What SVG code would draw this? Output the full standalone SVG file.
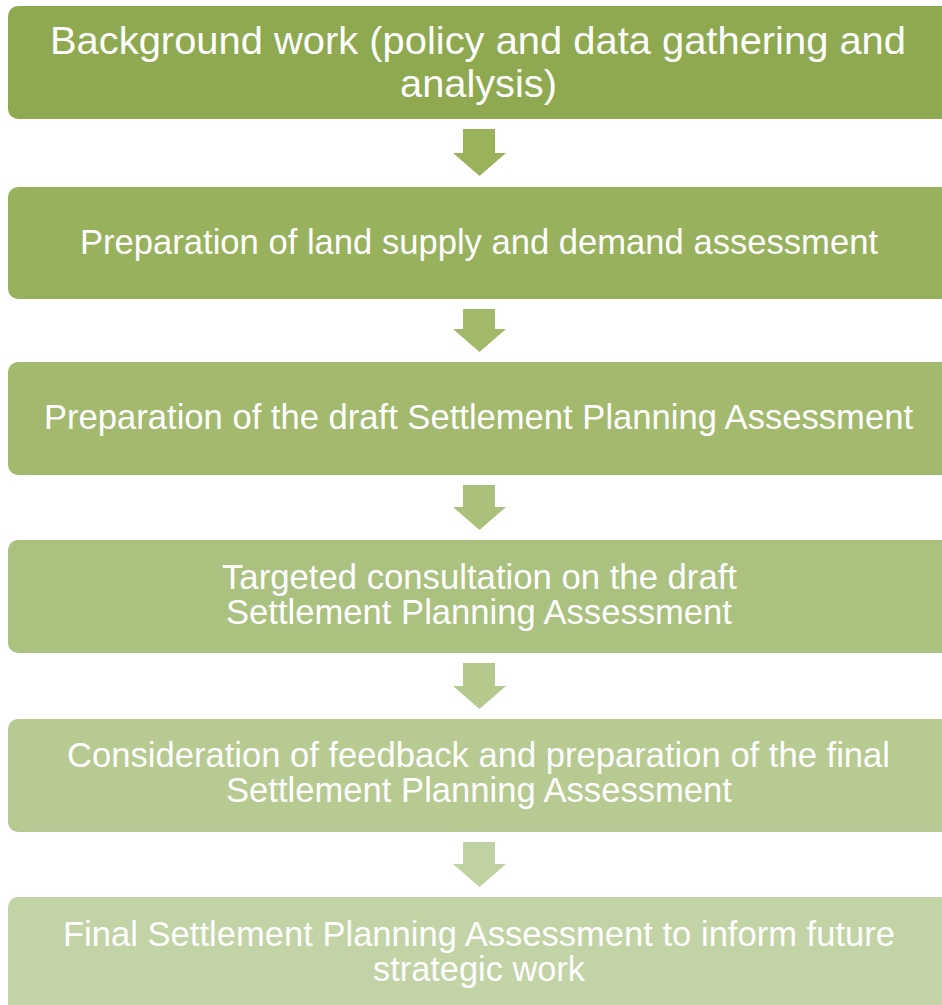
<svg xmlns="http://www.w3.org/2000/svg" width="942" height="1005" viewBox="0 0 942 1005">
<style>
.box{stroke:none}
.t{font-family:"Liberation Sans",Arial,sans-serif;fill:#ffffff;text-anchor:middle;font-size:34.5px}
.t1{font-size:39px}
</style>
<rect width="942" height="1005" fill="#ffffff"/>
<g id="connectors">
<path d="M463,129 H495 V153 H506 L479.5,176 L453,153 H463 Z" fill="#9AB35B"/>
<path d="M463,309 H495 V329 H506 L479.5,352 L453,329 H463 Z" fill="#A2B96A"/>
<path d="M463,485 H495 V507 H506 L479.5,530 L453,507 H463 Z" fill="#ABC17B"/>
<path d="M463,663 H495 V686 H506 L479.5,709 L453,686 H463 Z" fill="#B5C98D"/>
<path d="M463,842 H495 V864 H506 L479.5,887 L453,864 H463 Z" fill="#C0D1A2"/>
</g>
<g id="node1">
<rect class="box" x="8" y="6" width="950" height="113" rx="10" fill="#8EA94F"/>
<text class="t t1" x="478" y="54" textLength="856" lengthAdjust="spacingAndGlyphs">Background work (policy and data gathering and</text>
<text class="t t1" x="478.5" y="97" textLength="157" lengthAdjust="spacingAndGlyphs">analysis)</text>
</g>
<g id="node2">
<rect class="box" x="8" y="187" width="950" height="112" rx="10" fill="#98B15D"/>
<text class="t" x="479" y="254" textLength="798" lengthAdjust="spacingAndGlyphs">Preparation of land supply and demand assessment</text>
</g>
<g id="node3">
<rect class="box" x="8" y="362" width="950" height="113" rx="10" fill="#A2B96E"/>
<text class="t" x="478.5" y="429" textLength="869" lengthAdjust="spacingAndGlyphs">Preparation of the draft Settlement Planning Assessment</text>
</g>
<g id="node4">
<rect class="box" x="8" y="540" width="950" height="113" rx="10" fill="#ABC17F"/>
<text class="t" x="479.5" y="589" textLength="515" lengthAdjust="spacingAndGlyphs">Targeted consultation on the draft</text>
<text class="t" x="479" y="624" textLength="506" lengthAdjust="spacingAndGlyphs">Settlement Planning Assessment</text>
</g>
<g id="node5">
<rect class="box" x="8" y="719" width="950" height="113" rx="10" fill="#B6CA92"/>
<text class="t" x="478.5" y="767" textLength="823" lengthAdjust="spacingAndGlyphs">Consideration of feedback and preparation of the final</text>
<text class="t" x="479" y="802" textLength="506" lengthAdjust="spacingAndGlyphs">Settlement Planning Assessment</text>
</g>
<g id="node6">
<rect class="box" x="8" y="897" width="950" height="120" rx="10" fill="#C2D3A6"/>
<text class="t" x="479" y="946" textLength="832" lengthAdjust="spacingAndGlyphs">Final Settlement Planning Assessment to inform future</text>
<text class="t" x="479" y="981" textLength="212" lengthAdjust="spacingAndGlyphs">strategic work</text>
</g>
</svg>
